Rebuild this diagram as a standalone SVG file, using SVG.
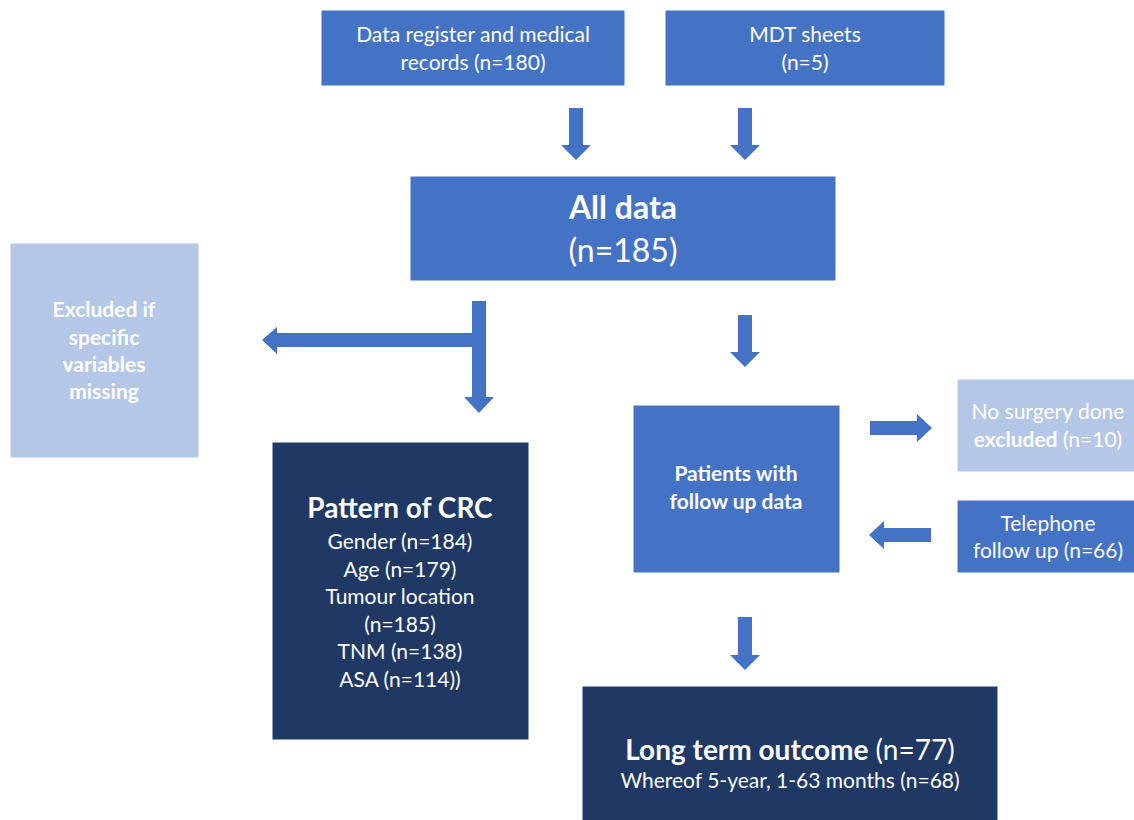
<svg xmlns="http://www.w3.org/2000/svg" width="1134" height="820" viewBox="0 0 1134 820">
<style>
.mid{fill:#4472C4}
.dark{fill:#203864}
.light{fill:#B4C7E7}
.box{stroke:#ffffff;stroke-width:1}
text{font-family:Lato,"Open Sans","Liberation Sans",sans-serif;fill:#ffffff;text-anchor:middle}
.b{font-weight:bold}
.arr{fill:#4472C4}
</style>
<rect width="1134" height="820" fill="#ffffff"/>
<g id="connectors">
<polygon class="arr" points="569,108 583,108 583,145 591,145 576,160 561,145 569,145"/>
<polygon class="arr" points="738,108 752,108 752,145 760,145 745,160 730,145 738,145"/>
<polygon class="arr" points="472,301 486,301 486,397 494,397 479,413 464,397 472,397 472,347 277,347 277,354 262,340 277,327 277,333 472,333"/>
<polygon class="arr" points="738,315 752,315 752,352 760,352 745,367 730,352 738,352"/>
<polygon class="arr" points="870,421 917,421 917,414 932,428 917,442 917,435 870,435"/>
<polygon class="arr" points="931,528 884,528 884,521 869,535 884,549 884,542 931,542"/>
<polygon class="arr" points="738,617 752,617 752,655 760,655 745,670 730,655 738,655"/>
</g>
<g id="n-register">
<rect class="mid box" x="321" y="10" width="304" height="76"/>
<text x="473" y="42" font-size="21">Data register and medical</text>
<text x="473" y="70" font-size="21">records (n=180)</text>
</g>
<g id="n-mdt">
<rect class="mid box" x="665" y="10" width="280" height="76"/>
<text x="805" y="42" font-size="21">MDT sheets</text>
<text x="805" y="70" font-size="21">(n=5)</text>
</g>
<g id="n-alldata">
<rect class="mid box" x="410" y="176" width="426" height="105"/>
<text class="b" x="623" y="219" font-size="32">All data</text>
<text x="623" y="262" font-size="32">(n=185)</text>
</g>
<g id="n-excluded">
<rect class="light box" x="10" y="243" width="189" height="215"/>
<text class="b" x="104" y="317" font-size="21">Excluded if</text>
<text class="b" x="104" y="345" font-size="21">specific</text>
<text class="b" x="104" y="372" font-size="21">variables</text>
<text class="b" x="104" y="399" font-size="21">missing</text>
</g>
<g id="n-pattern">
<rect class="dark box" x="272" y="442" width="257" height="298"/>
<text class="b" x="400" y="518" font-size="28">Pattern of CRC</text>
<text x="400" y="549" font-size="21">Gender (n=184)</text>
<text x="400" y="577" font-size="21">Age (n=179)</text>
<text x="400" y="604" font-size="21">Tumour location</text>
<text x="400" y="632" font-size="21">(n=185)</text>
<text x="400" y="659" font-size="21">TNM (n=138)</text>
<text x="400" y="687" font-size="21">ASA (n=114))</text>
</g>
<g id="n-patients">
<rect class="mid box" x="633" y="405" width="207" height="168"/>
<text class="b" x="736" y="481" font-size="21">Patients with</text>
<text class="b" x="736" y="509" font-size="21">follow up data</text>
</g>
<g id="n-nosurgery">
<rect class="light box" x="957" y="379" width="180" height="93"/>
<text x="1048" y="419" font-size="21">No surgery done</text>
<text x="1048" y="447" font-size="21"><tspan class="b">excluded</tspan> (n=10)</text>
</g>
<g id="n-telephone">
<rect class="mid box" x="957" y="500" width="180" height="73"/>
<text x="1048" y="531" font-size="21">Telephone</text>
<text x="1048" y="558" font-size="21">follow up (n=66)</text>
</g>
<g id="n-longterm">
<rect class="dark box" x="582" y="686" width="416" height="140"/>
<text x="790" y="760" font-size="28"><tspan class="b">Long term outcome</tspan> (n=77)</text>
<text x="790" y="788" font-size="21">Whereof 5-year, 1-63 months (n=68)</text>
</g>
</svg>
